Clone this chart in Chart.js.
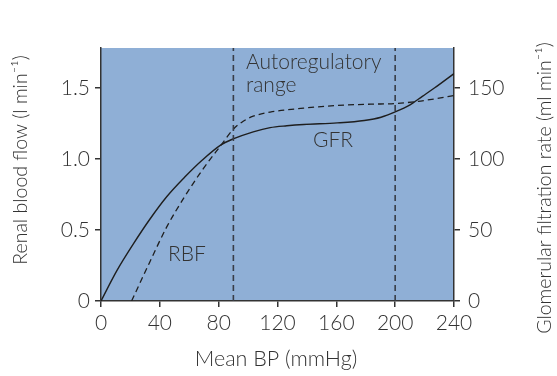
<!DOCTYPE html>
<html><head><meta charset="utf-8">
<script src="https://cdn.jsdelivr.net/npm/chart.js@4"></script>
<style>html,body{margin:0;padding:0;background:#fff}#wrap{width:557px;height:376px;position:relative}</style>
</head><body><div id="wrap"><canvas id="c"></canvas></div>
<script>
// ---- data ----
const gfrBP   = [0, 10.6, 21.9, 33.2, 44.8, 56.8, 68.7, 81.8, 89.8, 103.5, 115, 126.4, 137.8, 160.7, 179, 190.4, 200, 210.1, 218.5, 226.9, 240];
const gfrVals = [0, 21, 40, 57.5, 73.5, 87, 99, 110, 114, 119, 122, 123.3, 124.2, 125.3, 127, 129.3, 133, 138, 144, 150, 160]; // ml/min
const rbfBP   = [20.8, 33.2, 44.8, 56.8, 68.7, 81.8, 89.8, 96.7, 103.5, 115, 137.8, 160.7, 183.5, 200, 214.3, 226.9, 240];
const rbfVals = [0, 0.275, 0.523, 0.733, 0.919, 1.099, 1.207, 1.265, 1.300, 1.329, 1.357, 1.376, 1.385, 1.389, 1.403, 1.422, 1.445]; // l/min
const rangeBounds = [90, 200];
const xTicks = [0, 40, 80, 120, 160, 200, 240];
const leftTicks = [0, 0.5, 1.0, 1.5];
const rightTicks = [0, 50, 100, 150];
const leftMax = 1.78, rightMax = 178;

const FONT = "Lato, 'DejaVu Sans', sans-serif";
const TXT = '#333333';
const FS = 21;
const TFS = 19.5;
const XTFS = 21.5;
const FW = '300';

const pts = (xs, ys) => xs.map((x, i) => ({x, y: ys[i]}));

const datasets = rangeBounds.map(b => ({
  data: [{x: b, y: 0}, {x: b, y: leftMax}], yAxisID: 'y',
  borderColor: '#383d48', borderWidth: 1.6, borderDash: [6, 4], pointRadius: 0, tension: 0
}));
datasets.push({
  label: 'RBF', data: pts(rbfBP, rbfVals), yAxisID: 'y',
  borderColor: '#1e1e1e', borderWidth: 1.3, borderDash: [6, 4], pointRadius: 0,
  cubicInterpolationMode: 'monotone'
});
datasets.push({
  label: 'GFR', data: pts(gfrBP, gfrVals), yAxisID: 'y2',
  borderColor: '#1e1e1e', borderWidth: 1.4, pointRadius: 0,
  cubicInterpolationMode: 'monotone'
});

const deco = {
  id: 'deco',
  beforeDraw(chart) {
    const {ctx, chartArea: a} = chart;
    ctx.save();
    ctx.fillStyle = '#8fafd6';
    ctx.fillRect(a.left, a.top, a.right - a.left, a.bottom - a.top);
    ctx.restore();
  },
  afterDraw(chart) {
    const ctx = chart.ctx;
    ctx.save();
    ctx.fillStyle = TXT;
    ctx.font = `${FW} ${FS}px ${FONT}`;
    ctx.textBaseline = 'alphabetic';
    ctx.textAlign = 'left';
    ctx.fillText('Autoregulatory', 246, 69);
    ctx.fillText('range', 246, 92);
    ctx.fillText('GFR', 313, 147);
    ctx.fillText('RBF', 168, 261);
    ctx.font = `${FW} ${XTFS}px ${FONT}`;
    ctx.textAlign = 'center';
    ctx.textBaseline = 'middle';
    ctx.fillText('Mean BP (mmHg)', 276, 359);
    ctx.font = `${FW} ${TFS}px ${FONT}`;
    ctx.save();
    ctx.translate(21, 160);
    ctx.rotate(-Math.PI / 2);
    ctx.fillText('Renal blood flow (l min\u207B\u00B9)', 0, 0);
    ctx.restore();
    ctx.save();
    ctx.translate(545, 188);
    ctx.rotate(-Math.PI / 2);
    ctx.fillText('Glomerular filtration rate (ml min\u207B\u00B9)', 0, 0);
    ctx.restore();
    ctx.restore();
  }
};

const axisCommon = {
  grid: {display: true, drawOnChartArea: false, drawTicks: true, tickLength: 6, color: '#333', lineWidth: 1.5},
  border: {display: true, color: '#333', width: 1.5}
};
const tickFont = {family: FONT, size: FS, weight: FW};

new Chart(document.getElementById('c'), {
  type: 'line',
  data: {datasets},
  plugins: [deco],
  options: {
    responsive: true, maintainAspectRatio: false, animation: false,
    layout: {padding: {top: 48, left: 0, right: 0, bottom: 0}},
    plugins: {legend: {display: false}, tooltip: {enabled: false}},
    scales: {
      x: {
        type: 'linear', min: 0, max: 240, ...axisCommon,
        afterBuildTicks: s => { s.ticks = xTicks.map(v => ({value: v})); },
        afterFit: s => { s.height = 75; },
        ticks: {color: TXT, font: tickFont, padding: 4, maxRotation: 0,
                callback: v => String(v)}
      },
      y: {
        type: 'linear', position: 'left', min: 0, max: leftMax, ...axisCommon,
        afterBuildTicks: s => { s.ticks = leftTicks.map(v => ({value: v})); },
        afterFit: s => { s.width = 101; },
        ticks: {color: TXT, font: tickFont, padding: 5,
                callback: v => v === 0 ? '0' : v.toFixed(1)}
      },
      y2: {
        type: 'linear', position: 'right', min: 0, max: rightMax, ...axisCommon,
        afterBuildTicks: s => { s.ticks = rightTicks.map(v => ({value: v})); },
        afterFit: s => { s.width = 103; },
        ticks: {color: TXT, font: tickFont, padding: 8,
                callback: v => String(v)}
      }
    }
  }
});
</script>
</body></html>
